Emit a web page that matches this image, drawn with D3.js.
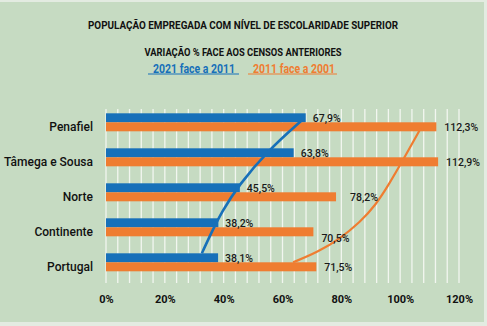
<!DOCTYPE html>
<html>
<head>
<meta charset="utf-8">
<script src="https://cdn.jsdelivr.net/npm/d3@7"></script>
<style>
  body { margin: 0; background: #fff; }
  text { font-family: Roboto, "DejaVu Sans", sans-serif; }
</style>
</head>
<body>
<div id="chart"></div>
<script>
// data
const categories = ["Penafiel", "Tâmega e Sousa", "Norte", "Continente", "Portugal"];
const series = ["2021 face a 2011", "2011 face a 2001"];
const values2021 = [67.9, 63.8, 45.5, 38.2, 38.1];
const values2011 = [112.3, 112.9, 78.2, 70.5, 71.5];
const xTicks = [0, 20, 40, 60, 80, 100, 120];

// hand-drawn trend curves: [row position (0 = Penafiel .. 4 = Portugal), value %]
const trend2021 = [[-0.06, 66.6], [0.8, 55.1], [1.8, 45.1], [2.56, 39.3], [3.23, 35.4], [3.74, 32.6]];
const trend2011 = [[0.17, 107.0], [1.03, 101.3], [1.8, 96.0], [2.37, 91.6], [2.85, 86.4], [3.32, 79.6], [3.71, 72.0], [4.0, 63.6]];

const colors = { blue: "#1770b9", orange: "#ef7d31" };

const W = 487, H = 326;

const svg = d3.select("#chart").append("svg")
    .attr("width", W)
    .attr("height", H);

// background panel
svg.append("rect")
    .attr("x", 0).attr("y", 0).attr("width", W).attr("height", H)
    .attr("fill", "#e3ebe1");
svg.append("rect")
    .attr("x", 0).attr("y", 2).attr("width", 484).attr("height", 320)
    .attr("fill", "#c6dbc2");

// titles
svg.append("text")
    .attr("x", 243).attr("y", 29)
    .attr("text-anchor", "middle")
    .attr("font-size", 10.5)
    .attr("font-weight", 700)
    .attr("fill", "#111")
    .attr("textLength", 310)
    .attr("lengthAdjust", "spacingAndGlyphs")
    .text("POPULAÇÃO EMPREGADA COM NÍVEL DE ESCOLARIDADE SUPERIOR");

svg.append("text")
    .attr("x", 243).attr("y", 55.5)
    .attr("text-anchor", "middle")
    .attr("font-size", 10.5)
    .attr("font-weight", 700)
    .attr("fill", "#111")
    .attr("textLength", 197)
    .attr("lengthAdjust", "spacingAndGlyphs")
    .text("VARIAÇÃO % FACE AOS CENSOS ANTERIORES");

// legend (underlined labels)
const legend = [
    { label: series[0], color: colors.blue, x: 194, x0: 148, x1: 239 },
    { label: series[1], color: colors.orange, x: 294, x0: 248, x1: 337 }
];
legend.forEach(function (d) {
    svg.append("text")
        .attr("x", d.x).attr("y", 72.5)
        .attr("text-anchor", "middle")
        .attr("font-size", 13)
        .attr("font-weight", 700)
        .attr("fill", d.color)
        .attr("textLength", 82)
        .attr("lengthAdjust", "spacingAndGlyphs")
        .text(d.label);
    svg.append("line")
        .attr("x1", d.x0).attr("x2", d.x1)
        .attr("y1", 74).attr("y2", 74)
        .attr("stroke", d.color)
        .attr("stroke-width", 1.2);
});

// scales
const x = d3.scaleLinear()
    .domain([0, 120])
    .range([106, 459]);

const y = d3.scaleBand()
    .domain(categories)
    .range([104.8, 279.8])
    .paddingInner(0.486)
    .paddingOuter(0.243);

const ySub = d3.scaleBand()
    .domain(series)
    .range([0, y.bandwidth()]);

// row position scale for the trend curves
const yRow = d3.scaleLinear()
    .domain([0, 4])
    .range([y(categories[0]) + y.bandwidth() / 2, y(categories[4]) + y.bandwidth() / 2]);

// vertical grid lines every 4%
svg.append("g")
    .selectAll("line")
    .data(d3.range(0, 121, 4))
    .enter()
    .append("line")
    .attr("x1", d => x(d)).attr("x2", d => x(d))
    .attr("y1", 109).attr("y2", 283)
    .attr("stroke", "#f2f6f0")
    .attr("stroke-width", 1.3);

// x axis labels
svg.append("g")
    .attr("transform", "translate(0,303)")
    .call(d3.axisBottom(x).tickValues(xTicks).tickSize(0).tickPadding(0).tickFormat(d => d + "%"))
    .call(g => g.select(".domain").remove())
    .selectAll("text")
    .attr("dy", 0)
    .attr("font-size", 11)
    .attr("font-weight", 700)
    .attr("fill", "#111")
    .style("font-family", "Roboto, sans-serif");

// category labels
svg.append("g")
    .selectAll("text")
    .data(categories)
    .enter()
    .append("text")
    .attr("x", 93)
    .attr("y", d => y(d) + y.bandwidth() / 2 + 8.5)
    .attr("text-anchor", "end")
    .attr("font-size", 12)
    .attr("font-weight", 500)
    .attr("fill", "#111")
    .text(d => d);

const rows = categories.map(function (c, i) {
    return { cat: c, v1: values2021[i], v2: values2011[i] };
});

// bars
const bars = svg.append("g");
bars.selectAll(".b1")
    .data(rows)
    .enter()
    .append("rect")
    .attr("x", x(0))
    .attr("y", d => y(d.cat) + ySub(series[0]))
    .attr("width", d => x(d.v1) - x(0))
    .attr("height", ySub.bandwidth())
    .attr("fill", colors.blue);
bars.selectAll(".b2")
    .data(rows)
    .enter()
    .append("rect")
    .attr("x", x(0))
    .attr("y", d => y(d.cat) + ySub(series[1]))
    .attr("width", d => x(d.v2) - x(0))
    .attr("height", ySub.bandwidth())
    .attr("fill", colors.orange);

// trend curves
const line = d3.line()
    .x(d => x(d[1]))
    .y(d => yRow(d[0]))
    .curve(d3.curveBasis);

svg.append("path")
    .attr("d", line(trend2021))
    .attr("fill", "none")
    .attr("stroke", colors.blue)
    .attr("stroke-width", 2.6);

svg.append("path")
    .attr("d", line(trend2011))
    .attr("fill", "none")
    .attr("stroke", colors.orange)
    .attr("stroke-width", 2.2);

// value labels (a couple nudged off the curve like in the original)
const fmt = v => v.toFixed(1).replace(".", ",") + "%";
const nudge2011 = { "Norte": [6, 0], "Continente": [0, 6] };

svg.append("g")
    .selectAll("text")
    .data(rows)
    .enter()
    .append("text")
    .attr("x", d => x(d.v1) + 7)
    .attr("y", d => y(d.cat) + ySub(series[0]) + ySub.bandwidth() / 2 + 3.8)
    .attr("font-size", 10.5)
    .attr("font-weight", 500)
    .attr("fill", "#1a1a1a")
    .text(d => fmt(d.v1));

svg.append("g")
    .selectAll("text")
    .data(rows)
    .enter()
    .append("text")
    .attr("x", d => x(d.v2) + 8 + (nudge2011[d.cat] ? nudge2011[d.cat][0] : 0))
    .attr("y", d => y(d.cat) + ySub(series[1]) + ySub.bandwidth() / 2 + 3.8 + (nudge2011[d.cat] ? nudge2011[d.cat][1] : 0))
    .attr("font-size", 10.5)
    .attr("font-weight", 500)
    .attr("fill", "#1a1a1a")
    .text(d => fmt(d.v2));
</script>
</body>
</html>
